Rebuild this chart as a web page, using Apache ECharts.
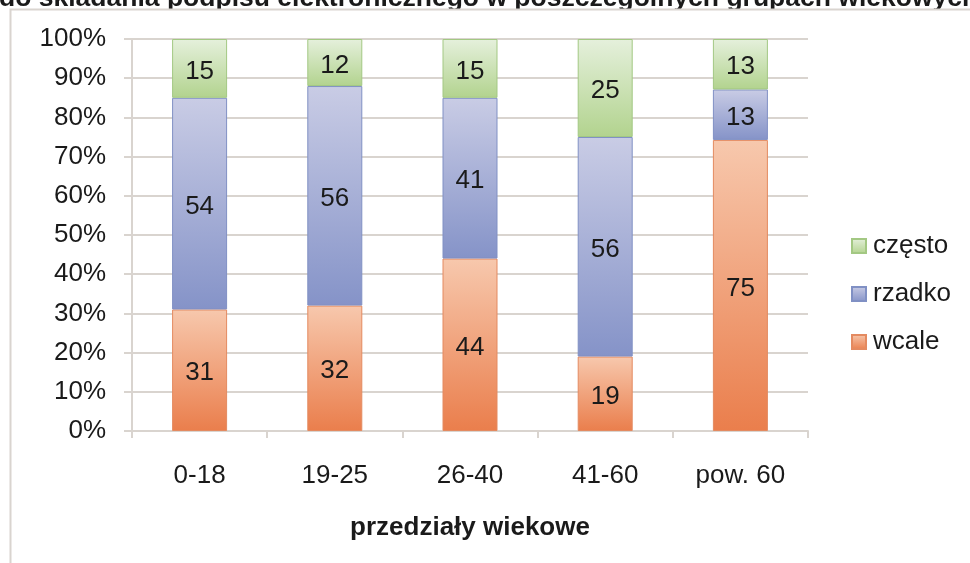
<!DOCTYPE html>
<html>
<head>
<meta charset="utf-8">
<script src="https://cdn.jsdelivr.net/npm/echarts@6/dist/echarts.min.js"></script>
<style>html,body{margin:0;padding:0;background:#fff}#c{width:970px;height:563px}</style>
</head>
<body>
<div id="c"></div>
<script>
var categories = ['0-18', '19-25', '26-40', '41-60', 'pow. 60'];
var wcale = [31, 32, 44, 19, 75];
var rzadko = [54, 56, 41, 56, 13];
var czesto = [15, 12, 15, 25, 13];
var seriesNames = ['wcale', 'rzadko', 'często'];
var yTicks = [0, 10, 20, 30, 40, 50, 60, 70, 80, 90, 100];
var titleText = 'do składania podpisu elektronicznego w poszczególnych grupach wiekowych';
var xAxisName = 'przedziały wiekowe';

var totals = categories.map(function (_, i) { return wcale[i] + rzadko[i] + czesto[i]; });
function share(arr) { return arr.map(function (v, i) { return { value: v * 100 / totals[i], raw: v }; }); }

var FONT = '"Liberation Sans", Arial, sans-serif';
function grad(top, bottom) {
  return new echarts.graphic.LinearGradient(0, 0, 0, 1, [{ offset: 0, color: top }, { offset: 1, color: bottom }]);
}
var styles = [
  { color: grad('#f7c8ad', '#ea7e4c'), borderColor: '#e48a60' },
  { color: grad('#c9cce5', '#8593c8'), borderColor: '#8090c4' },
  { color: grad('#e5f0dc', '#b2d38e'), borderColor: '#a3c883' }
];
var dataSets = [wcale, rzadko, czesto];

var chart = echarts.init(document.getElementById('c'), null, { renderer: 'canvas' });
chart.setOption({
  animation: false,
  backgroundColor: '#ffffff',
  graphic: [
    { type: 'text', z: -10, x: -1, y: -1,
      style: { text: titleText, font: 'bold 26.5px ' + FONT, fill: '#1a1a1a', verticalAlign: 'middle', align: 'left' } },
    { type: 'rect', z: -5, shape: { x: 10.5, y: 9.5, width: 980, height: 600 },
      style: { fill: '#ffffff', stroke: '#d9d4cf', lineWidth: 2 } }
  ],
  grid: { left: 132, right: 162, top: 39, bottom: 132, containLabel: false },
  legend: {
    orient: 'vertical', left: 851, top: 233, padding: 0,
    data: ['często', 'rzadko', 'wcale'],
    icon: 'rect', itemWidth: 14, itemHeight: 14, itemGap: 22,
    textStyle: { fontFamily: FONT, fontSize: 26, color: '#1a1a1a', lineHeight: 26, padding: [0, 0, 0, 2] }
  },
  xAxis: {
    type: 'category', data: categories,
    axisLine: { lineStyle: { color: '#d9d4cf', width: 2 } },
    axisTick: { show: true, length: 7, lineStyle: { color: '#d9d4cf', width: 2 } },
    axisLabel: { fontFamily: FONT, fontSize: 26, color: '#1a1a1a', margin: 32 },
    name: xAxisName, nameLocation: 'middle', nameGap: 84,
    nameTextStyle: { fontFamily: FONT, fontSize: 26, fontWeight: 'bold', color: '#1a1a1a', verticalAlign: 'top' }
  },
  yAxis: {
    type: 'value', min: 0, max: 100, interval: 10,
    axisLine: { show: true, lineStyle: { color: '#d9d4cf', width: 2 } },
    axisTick: { show: true, length: 8, lineStyle: { color: '#d9d4cf', width: 2 } },
    axisLabel: { fontFamily: FONT, fontSize: 26, color: '#1a1a1a', margin: 26, padding: [5, 0, 0, 0],
      formatter: function (v) { return yTicks.indexOf(v) >= 0 ? v + '%' : ''; } },
    splitLine: { lineStyle: { color: '#d9d4cf', width: 2 } }
  },
  series: dataSets.map(function (arr, k) {
    return {
      name: seriesNames[k], type: 'bar', stack: 'all', barWidth: 55,
      data: share(arr),
      itemStyle: { color: styles[k].color, borderColor: styles[k].borderColor, borderWidth: 1 },
      label: { show: true, position: 'inside', offset: [0, 3], fontFamily: FONT, fontSize: 26, color: '#1a1a1a',
        formatter: function (p) { return p.data.raw; } }
    };
  })
});
</script>
</body>
</html>
